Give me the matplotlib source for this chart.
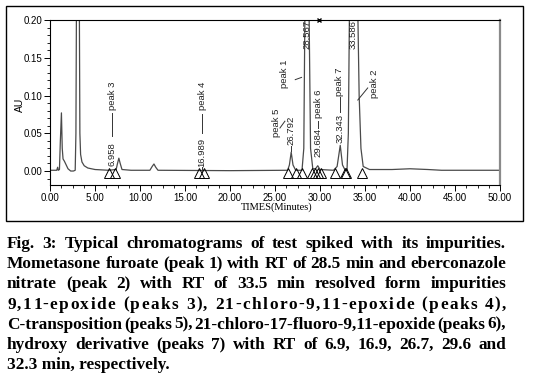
import matplotlib
matplotlib.use("Agg")
import matplotlib.pyplot as plt
from matplotlib.patches import Rectangle
from matplotlib.ticker import MultipleLocator, FormatStrFormatter

# chromatogram trace (minutes, AU); tall peaks go off scale
trace_time = [0.0, 0.75, 0.85, 0.92, 1.05, 1.15, 1.27, 1.36, 1.45, 1.6, 1.8, 2.0,
              2.3, 2.6, 2.8, 2.88, 2.95, 3.25, 3.32, 3.4, 3.55, 3.8, 4.2, 5.0,
              6.5, 7.35, 7.5, 7.65, 7.8, 8.0, 9.0, 11.1, 11.35, 11.55, 11.75, 12.0,
              20.0, 26.4, 26.6, 26.8, 27.0, 27.3, 28.0, 28.2, 28.35, 28.75, 28.95,
              29.2, 29.5, 29.75, 30.0, 31.5, 31.9, 32.25, 32.5, 32.8, 33.0, 33.15,
              33.3, 34.15, 34.35, 34.55, 34.8, 35.5, 38.0, 40.0, 42.0, 43.5, 50.0]
trace_au = [0.001, 0.001, 0.005, 0.001, 0.002, 0.040, 0.077, 0.030, 0.016, 0.013, 0.008, 0.003,
            0.000, 0.000, 0.001, 0.050, 0.250, 0.250, 0.050, 0.022, 0.012, 0.007, 0.004, 0.002,
            0.001, 0.002, 0.010, 0.017, 0.010, 0.002, 0.001, 0.001, 0.006, 0.0093, 0.005, 0.001,
            0.0005, 0.001, 0.008, 0.025, 0.008, 0.001, 0.001, 0.030, 0.250, 0.250, 0.030,
            0.003, 0.003, 0.007, 0.002, 0.001, 0.006, 0.034, 0.008, 0.001, 0.001, 0.050,
            0.250, 0.250, 0.100, 0.030, 0.006, 0.002, 0.002, 0.003, 0.002, 0.001, 0.001]

# integration markers (open triangles on the baseline)
marker_time = [6.55, 7.2, 16.6, 17.1, 26.4, 27.3, 28.0, 29.1, 29.4, 29.8, 30.1,
               31.7, 32.8, 32.9, 34.7]

# retention time labels and peak names
rt_labels = ["6.958", "16.989", "26.792", "28.567", "29.684", "32.343", "33.586"]
rt_pos = [6.9, 16.9, 26.75, 28.5, 29.8, 32.2, 33.7]
peak_names = ["peak 3", "peak 4", "peak 5", "peak 1", "peak 6", "peak 7", "peak 2"]
peak_pos = [6.9, 16.9, 25.2, 26.1, 29.8, 32.2, 36.1]

caption_lines = [
    "Fig. 3: Typical chromatograms of test spiked with its impurities.",
    "Mometasone furoate (peak 1) with RT of 28.5 min and eberconazole",
    "nitrate (peak 2) with RT of 33.5 min resolved form impurities",
    "9,11-epoxide (peaks 3), 21-chloro-9,11-epoxide (peaks 4),",
    "C-transposition (peaks 5), 21-chloro-17-fluoro-9,11-epoxide (peaks 6),",
    "hydroxy derivative (peaks 7) with RT of 6.9, 16.9, 26.7, 29.6 and",
    "32.3 min, respectively.",
]

W, H = 539, 384
fig = plt.figure(figsize=(W / 100, H / 100), dpi=100)
fig.patch.set_facecolor("white")

# box around the chromatogram
fig.patches.append(Rectangle((6 / W, 1 - 221 / H), 517 / W, 215 / H,
                             transform=fig.transFigure, fill=False,
                             edgecolor="black", linewidth=1.0))

ax = fig.add_axes([50 / W, 1 - 185 / H, 450 / W, 165 / H])
ax.plot(trace_time, trace_au, color="#4a4a4a", linewidth=0.9)
ax.plot(marker_time, [-0.003] * len(marker_time), linestyle="none", marker="^",
        markersize=7, markerfacecolor="none", markeredgecolor="black",
        markeredgewidth=0.7)
ax.plot([29.9], [0.2], marker="x", markersize=3, color="black", clip_on=False)

ax.set_xlim(0, 50)
ax.set_ylim(-0.0185, 0.2)
ax.xaxis.set_major_locator(MultipleLocator(5))
ax.xaxis.set_minor_locator(MultipleLocator(1.25))
ax.yaxis.set_major_locator(MultipleLocator(0.05))
ax.yaxis.set_minor_locator(MultipleLocator(0.01))
ax.xaxis.set_major_formatter(FormatStrFormatter("%.2f"))
ax.yaxis.set_major_formatter(FormatStrFormatter("%.2f"))
ax.tick_params(which="both", direction="out", labelsize=7, pad=1.5,
               top=False, right=False)
ax.tick_params(which="major", length=4, width=0.7)
ax.tick_params(which="minor", length=2.5, width=0.6)
for lbl in ax.get_xticklabels() + ax.get_yticklabels():
    lbl.set_family("Liberation Sans")
for side in ["left", "bottom", "top"]:
    ax.spines[side].set_linewidth(0.8)
ax.spines["right"].set_color("#8a8a8a")
ax.spines["right"].set_linewidth(1.6)

lab = dict(rotation=90, ha="center", va="bottom", fontsize=6.8,
           family="Liberation Sans", color="#222222")

# retention time texts (bottom of text, in AU)
rt_bottom = [0.006, 0.005, 0.034, 0.162, 0.019, 0.037, 0.161]
for t, x, y in zip(rt_labels, rt_pos, rt_bottom):
    ax.text(x, y, t, **lab)

# peak names
name_bottom = [0.081, 0.081, 0.045, 0.110, 0.070, 0.100, 0.097]
for t, x, y in zip(peak_names, peak_pos, name_bottom):
    ax.text(x, y, t, **lab)

# leader lines between labels
lk = dict(color="#333333", linewidth=0.7)
ax.plot([6.9, 6.9], [0.047, 0.077], **lk)
ax.plot([16.9, 16.9], [0.051, 0.075], **lk)
ax.plot([16.9, 16.9], [0.000, 0.005], **lk)
ax.plot([29.8, 29.8], [0.057, 0.066], **lk)
ax.plot([32.2, 32.2], [0.078, 0.098], **lk)
ax.plot([25.55, 26.1], [0.057, 0.066], **lk)
ax.plot([26.75, 26.75], [0.027, 0.033], **lk)
ax.plot([27.25, 27.95], [0.121, 0.124], **lk)
ax.plot([34.2, 35.3], [0.094, 0.110], **lk)

fig.text(20 / W, 1 - 105 / H, "AU", rotation=90, ha="center", va="center",
         fontsize=7.5, family="Liberation Sans")
fig.text(277 / W, 1 - 207 / H, "TIMES(Minutes)", ha="center", va="center",
         fontsize=7.5, family="Liberation Serif")

# justified caption; size chosen so the tightest line fills the width
renderer = fig.canvas.get_renderer()
x0, x1 = 7.0, 506.0
cap = dict(family="Liberation Serif", fontweight="bold",
           va="baseline", ha="left", color="black")
probe = fig.text(0, 0, caption_lines[1], fontsize=10, **cap)
size = 10 * (x1 - x0) / probe.get_window_extent(renderer=renderer).width
probe.remove()


def text_width(s):
    t = fig.text(0, 0, s + "x", fontsize=size, **cap)
    w = t.get_window_extent(renderer=renderer).width
    t.remove()
    return w - xw


xw = 0.0
xw = text_width("")

for i, line in enumerate(caption_lines):
    yb = 1 - (248 + i * 20.2) / H
    if i == len(caption_lines) - 1:
        fig.text(x0 / W, yb, line, fontsize=size, **cap)
    elif i == 3:
        # this line is letter-spaced in the original
        extra = (x1 - x0 - text_width(line)) / (len(line) - 1)
        for k, ch in enumerate(line):
            if ch != " ":
                fig.text((x0 + text_width(line[:k]) + k * extra) / W, yb, ch,
                         fontsize=size, **cap)
    else:
        words = line.split()
        items = [fig.text(0, yb, w, fontsize=size, **cap) for w in words]
        widths = [it.get_window_extent(renderer=renderer).width for it in items]
        gap = (x1 - x0 - sum(widths)) / (len(words) - 1)
        x = x0
        for it, w in zip(items, widths):
            it.set_x(x / W)
            x += w + gap

fig.savefig("out.png", dpi=100)
